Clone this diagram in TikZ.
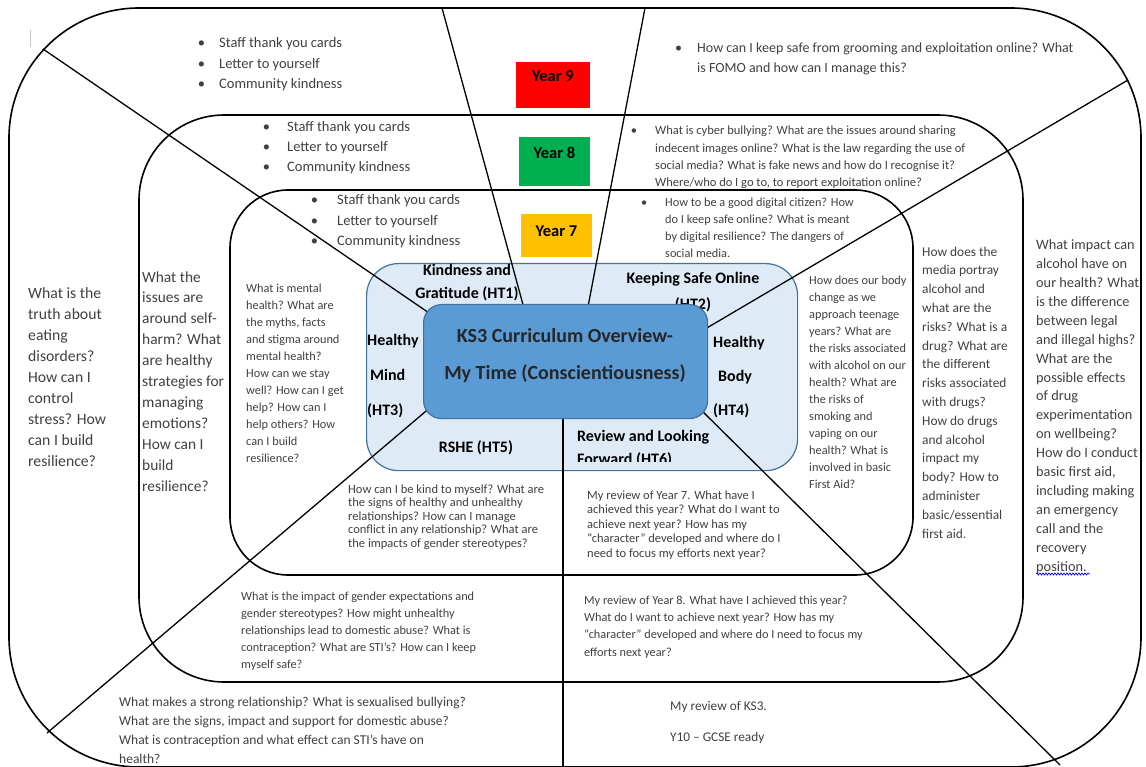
\documentclass[tikz,border=0pt]{standalone}
\usepackage{fontspec}
\setmainfont{Carlito}
\usetikzlibrary{decorations.pathmorphing}

\definecolor{txtgray}{HTML}{404040}
\definecolor{hubfill}{HTML}{DEEBF7}
\definecolor{corefill}{HTML}{5B9BD5}
\definecolor{edgeblue}{HTML}{41719C}
\definecolor{yrnine}{HTML}{FF0000}
\definecolor{yreight}{HTML}{00B050}
\definecolor{yrseven}{HTML}{FFC000}

\newcommand{\bul}[1]{\llap{\textbullet\hspace{#1pt}}}

\tikzset{
  ring/.style={draw, line width=1.6pt},
  spoke/.style={line width=1.3pt},
  qtext/.style={anchor=base west, align=left, inner sep=0pt, text=txtgray},
  topic/.style={inner sep=0pt, font=\bfseries\fontsize{16}{23}\selectfont},
  yearbox/.style={inner ysep=0pt, inner xsep=0pt, anchor=base, font=\bfseries\fontsize{16.5}{20}\selectfont}
}

\begin{document}
\begin{tikzpicture}[x=1pt,y=-1pt]
    \useasboundingbox (0,0) rectangle (1146,767);

    % Rings: Year 9, Year 8, Year 7
    \draw[ring, rounded corners=130pt] (9,8) rectangle (1141,767);
    \draw[ring, rounded corners=85pt] (139,115) rectangle (1023,682);
    \draw[ring, rounded corners=58pt] (230,190) rectangle (913,575);

    % Centre panel
    \node[draw=edgeblue, fill=hubfill, line width=1.2pt, rounded corners=32pt, inner sep=0pt,
          minimum width=431pt, minimum height=207pt, anchor=north west] (hub) at (366,263) {};

    % Half-term topics (multi-line nodes sit on their last line)
    \node[topic, align=center, anchor=base] (ht1) at (467,299) {Kindness and\\Gratitude (HT1)};
    \node[topic, align=center, anchor=base, font=\bfseries\fontsize{16}{25}\selectfont] (ht2) at (693,309) {Keeping Safe Online\\(HT2)};
    \node[topic, align=left, anchor=base west, font=\bfseries\fontsize{16}{35}\selectfont] (ht3) at (367,415) {Healthy\\\hspace{3pt}Mind\\(HT3)};
    \node[topic, align=left, anchor=base west, font=\bfseries\fontsize{16}{34}\selectfont] (ht4) at (713,415) {Healthy\\\hspace{5pt}Body\\(HT4)};
    \node[topic, anchor=base] (ht5) at (476,452) {RSHE (HT5)};
    \begin{scope}
      \clip (366,263) rectangle (797,461);
      \node[topic, align=left, anchor=base west] (ht6) at (577,464) {Review and Looking\\Forward (HT6)};
    \end{scope}

    % Spokes
    \coordinate (o-nw) at (43,49);
    \coordinate (o-n1) at (442,8);
    \coordinate (o-n2) at (645,8);
    \coordinate (o-ne) at (1128,80);
    \coordinate (o-sw) at (47,733);
    \coordinate (o-s)  at (563,767);
    \coordinate (o-se) at (1060,765);
    \coordinate (c-nw) at (432,315);
    \coordinate (c-n1) at (525,312);
    \coordinate (c-n2) at (587,312);
    \coordinate (c-ne) at (700,332);
    \coordinate (c-sw) at (432,406);
    \coordinate (c-s)  at (563,410);
    \coordinate (c-se) at (696,405);
    \foreach \a in {nw,n1,n2,ne,sw,s,se}
        \draw[spoke] (o-\a) -- (c-\a);

    % Core
    \node[draw=edgeblue, fill=corefill, line width=1.2pt, rounded corners=18pt, inner sep=0pt,
          minimum width=284pt, minimum height=114pt, anchor=north west] (core) at (423,304) {};
    \node[align=center, anchor=base, inner sep=0pt, text=black!85,
          font=\bfseries\fontsize{20}{37}\selectfont] (title) at (565,379)
          {KS3 Curriculum Overview-\\My Time (Conscientiousness)};

    % Year tabs
    \node[yearbox, fill=yrnine, minimum width=74pt, text height=20pt, text depth=26pt] (y9) at (553,82) {Year 9};
    \node[yearbox, fill=yreight, minimum width=71pt, text height=22pt, text depth=27pt] (y8) at (554.5,159) {Year 8};
    \node[yearbox, fill=yrseven, minimum width=71pt, text height=23pt, text depth=20pt] (y7) at (556.5,237) {Year 7};

    % HT1 activities
    \node[qtext, font=\fontsize{14.5}{20.5}\selectfont] (y9-acts) at (219,89)
        {\bul{14}Staff thank you cards\\\bul{14}Letter to yourself\\\bul{14}Community kindness};
    \node[qtext, font=\fontsize{14.5}{20}\selectfont] (y8-acts) at (287,172)
        {\bul{17}Staff thank you cards\\\bul{17}Letter to yourself\\\bul{17}Community kindness};
    \node[qtext, font=\fontsize{14.5}{20.5}\selectfont] (y7-acts) at (337,246)
        {\bul{19}Staff thank you cards\\\bul{19}Letter to yourself\\\bul{19}Community kindness};

    % HT2 online safety
    \node[qtext, font=\fontsize{14}{20}\selectfont] (y9-online) at (697,73)
        {\bul{15}How can I keep safe from grooming and exploitation online? What\\is FOMO and how can I manage this?};
    \node[qtext, font=\fontsize{12.5}{17.2}\selectfont] (y8-online) at (655,186.6)
        {\bul{18}What is cyber bullying? What are the issues around sharing\\indecent images online? What is the law regarding the use of\\social media? What is fake news and how do I recognise it?\\Where/who do I go to, to report exploitation online?};
    \node[qtext, font=\fontsize{12.3}{17.3}\selectfont] (y7-online) at (665,258)
        {\bul{18}How to be a good digital citizen? How\\do I keep safe online? What is meant\\by digital resilience? The dangers of\\social media.};

    % HT3 healthy mind
    \node[qtext, font=\fontsize{15.7}{20.9}\selectfont] (y9-mind) at (28,466)
        {What is the\\truth about\\eating\\disorders?\\How can I\\control\\stress? How\\can I build\\resilience?};
    \node[qtext, font=\fontsize{15.4}{20.9}\selectfont] (y8-mind) at (142,491)
        {What the\\issues are\\around self-\\harm? What\\are healthy\\strategies for\\managing\\emotions?\\How can I\\build\\resilience?};
    \node[qtext, font=\fontsize{12.3}{17}\selectfont] (y7-mind) at (246,462)
        {What is mental\\health? What are\\the myths, facts\\and stigma around\\mental health?\\How can we stay\\well? How can I get\\help? How can I\\help others? How\\can I build\\resilience?};

    % HT4 healthy body
    \node[qtext, font=\fontsize{12.3}{17}\selectfont] (y7-body) at (809,488)
        {How does our body\\change as we\\approach teenage\\years? What are\\the risks associated\\with alcohol on our\\health? What are\\the risks of\\smoking and\\vaping on our\\health? What is\\involved in basic\\First Aid?};
    \node[qtext, font=\fontsize{13.4}{18.8}\selectfont] (y8-body) at (922,538)
        {How does the\\media portray\\alcohol and\\what are the\\risks? What is a\\drug? What are\\the different\\risks associated\\with drugs?\\How do drugs\\and alcohol\\impact my\\body? How to\\administer\\basic/essential\\first aid.};
    \node[qtext, font=\fontsize{14.3}{18.9}\selectfont] (y9-body) at (1036,571)
        {What impact can\\alcohol have on\\our health? What\\is the difference\\between legal\\and illegal highs?\\What are the\\possible effects\\of drug\\experimentation\\on wellbeing?\\How do I conduct\\basic first aid,\\including making\\an emergency\\call and the\\recovery\\position.};
    \draw[blue!90!black, line width=0.7pt, decorate, decoration={snake, amplitude=1pt, segment length=3pt}]
        (1036,574) -- (1090,574);

    % HT5 RSHE
    \node[qtext, font=\fontsize{12.5}{13.6}\selectfont] (y7-rshe) at (348,547.4)
        {How can I be kind to myself? What are\\the signs of healthy and unhealthy\\relationships? How can I manage\\conflict in any relationship? What are\\the impacts of gender stereotypes?};
    \node[qtext, font=\fontsize{12.3}{17}\selectfont] (y8-rshe) at (241,668)
        {What is the impact of gender expectations and\\gender stereotypes? How might unhealthy\\relationships lead to domestic abuse? What is\\contraception? What are STI's? How can I keep\\myself safe?};
    \node[qtext, font=\fontsize{13.5}{18.7}\selectfont] (y9-rshe) at (119,763)
        {What makes a strong relationship? What is sexualised bullying?\\What are the signs, impact and support for domestic abuse?\\What is contraception and what effect can STI's have on\\health?};

    % HT6 review
    \node[qtext, font=\fontsize{12.5}{14.5}\selectfont] (y7-review) at (587,557)
        {My review of Year 7. What have I\\achieved this year? What do I want to\\achieve next year? How has my\\“character” developed and where do I\\need to focus my efforts next year?};
    \node[qtext, font=\fontsize{12.3}{17.3}\selectfont] (y8-review) at (584,656)
        {My review of Year 8. What have I achieved this year?\\What do I want to achieve next year? How has my\\“character” developed and where do I need to focus my\\efforts next year?};
    \node[qtext, font=\fontsize{13.3}{31}\selectfont] (y9-review) at (670,741)
        {My review of KS3.\\Y10 – GCSE ready};

    % cursor mark
    \draw[gray!45, line width=0.8pt] (30,30) -- (30,47);
\end{tikzpicture}
\end{document}
